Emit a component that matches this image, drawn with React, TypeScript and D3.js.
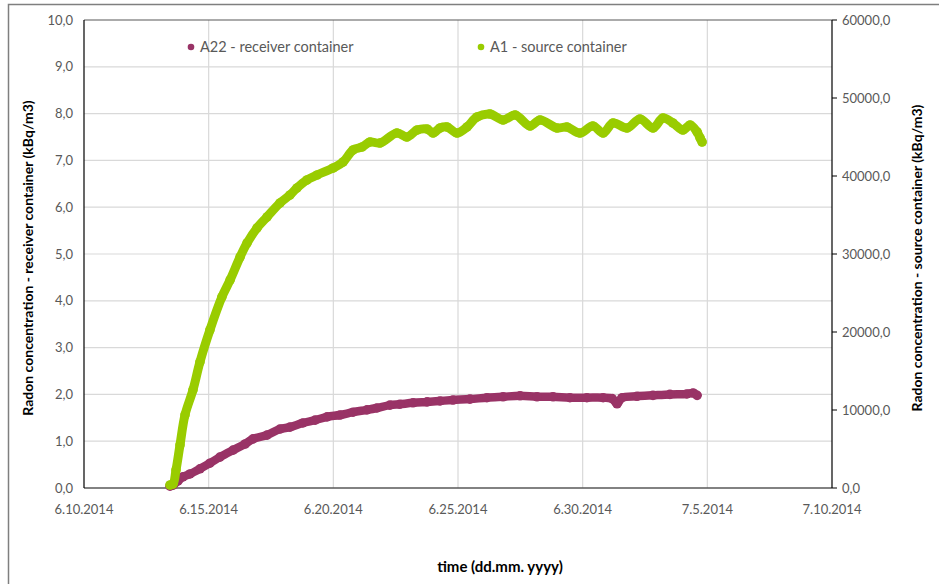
import React from "react";
import * as d3 from "d3";

// days since 6.10.2014, values
const a1Days = [3.45, 3.57, 3.69, 3.85, 4.05, 4.37, 4.65, 5.05, 5.53, 5.86, 6.26, 6.54, 6.94, 7.34, 7.86, 8.26, 8.54, 8.94, 9.35, 9.99, 10.39, 10.79, 11.15, 11.47, 11.87, 12.55, 12.95, 13.36, 13.76, 14.0, 14.28, 14.56, 14.96, 15.36, 15.76, 16.28, 16.81, 17.29, 17.89, 18.29, 18.97, 19.37, 19.89, 20.41, 20.82, 21.22, 21.78, 22.3, 22.82, 23.22, 23.62, 24.02, 24.31, 24.59, 24.71, 24.79];
const a1Values = [385, 513, 2308, 5513, 9359, 12564, 16154, 20256, 24487, 26667, 29615, 31410, 33333, 34744, 36538, 37564, 38462, 39487, 40128, 41026, 41795, 43333, 43718, 44359, 44231, 45513, 45000, 45897, 46026, 45513, 46154, 46282, 45513, 46282, 47564, 47949, 47179, 47820, 46410, 47179, 46154, 46282, 45513, 46410, 45513, 46795, 46154, 47308, 46154, 47436, 46795, 45897, 46538, 45641, 44872, 44359];

const a22Days = [3.45, 3.57, 3.77, 3.97, 4.25, 4.65, 5.05, 5.45, 5.98, 6.46, 6.78, 7.34, 7.86, 8.26, 8.78, 9.27, 9.75, 10.27, 10.79, 11.35, 11.75, 12.27, 12.67, 13.2, 13.76, 14.28, 14.8, 15.48, 16.16, 16.81, 17.49, 18.17, 18.81, 19.49, 20.17, 20.82, 21.18, 21.38, 21.58, 22.18, 22.82, 23.5, 24.18, 24.43, 24.59];
const a22Values = [0.04, 0.06, 0.15, 0.24, 0.3, 0.41, 0.53, 0.66, 0.81, 0.94, 1.05, 1.13, 1.26, 1.3, 1.39, 1.45, 1.52, 1.56, 1.62, 1.67, 1.71, 1.77, 1.79, 1.82, 1.84, 1.86, 1.88, 1.9, 1.93, 1.95, 1.97, 1.95, 1.95, 1.93, 1.93, 1.93, 1.91, 1.8, 1.93, 1.96, 1.98, 2.0, 2.01, 2.03, 1.98];

const xTickDays = [0, 5, 10, 15, 20, 25, 30];
const leftTicks = [0, 1, 2, 3, 4, 5, 6, 7, 8, 9, 10];
const rightTicks = [0, 10000, 20000, 30000, 40000, 50000, 60000];

const seriesNames = ["A22 - receiver container", "A1 - source container"];
const purple = "#993366";
const green = "#99cc00";

const start = new Date(2014, 5, 10);
const toDate = (d: number) => new Date(start.getTime() + d * 86400000);

export default function App() {
  const W = 939, H = 584;
  const L = 84, R = 832, T = 20, B = 488;
  const x = d3.scaleTime().domain([toDate(0), toDate(30)]).range([L, R]);
  const yL = d3.scaleLinear().domain([0, 10]).range([B, T]);
  const yR = d3.scaleLinear().domain([0, 60000]).range([B, T]);
  const fmt = d3.timeFormat("%-m.%-d.%Y");
  const font = "Lato, 'Open Sans', sans-serif";
  const tickColor = "#595959";

  const a22 = a22Days.map((d, i) => [x(toDate(d)), yL(a22Values[i])] as [number, number]);
  const a1 = a1Days.map((d, i) => [x(toDate(d)), yR(a1Values[i])] as [number, number]);
  const line = d3.line().curve(d3.curveCatmullRom);

  return (
    <svg width={W} height={H} style={{ position: "absolute", left: 0, top: 0, background: "#fff" }} fontFamily={font}>
      <rect x={8.5} y={4.5} width={960} height={620} fill="#fff" stroke="#7f7f7f" strokeWidth={1.5} />
      {leftTicks.slice(1, -1).map((t) => (
        <line key={"h" + t} x1={L} x2={R} y1={yL(t)} y2={yL(t)} stroke="#d9d9d9" strokeWidth={1.2} />
      ))}
      {xTickDays.slice(1, -1).map((d) => (
        <line key={"v" + d} x1={x(toDate(d))} x2={x(toDate(d))} y1={T} y2={B} stroke="#d9d9d9" strokeWidth={1.2} />
      ))}
      <line x1={L} x2={R} y1={T} y2={T} stroke="#595959" strokeWidth={1.2} />
      <line x1={L} x2={R} y1={B} y2={B} stroke="#595959" strokeWidth={1.5} />
      <line x1={L} x2={L} y1={T} y2={B} stroke="#000" strokeWidth={1.2} />
      <line x1={R} x2={R} y1={T} y2={B} stroke="#000" strokeWidth={1.2} />
      {rightTicks.map((t) => (
        <line key={"rt" + t} x1={R} x2={R + 5} y1={yR(t)} y2={yR(t)} stroke="#000" strokeWidth={1} />
      ))}
      <path d={line(a22) || ""} fill="none" stroke={purple} strokeWidth={8.5} strokeLinejoin="round" strokeLinecap="round" />
      {a22.map((p, i) => (
        <circle key={"p" + i} cx={p[0]} cy={p[1]} r={4.8} fill={purple} />
      ))}
      <path d={line(a1) || ""} fill="none" stroke={green} strokeWidth={9} strokeLinejoin="round" strokeLinecap="round" />
      {a1.map((p, i) => (
        <circle key={"g" + i} cx={p[0]} cy={p[1]} r={4.8} fill={green} />
      ))}
      {leftTicks.map((t) => (
        <text key={"lt" + t} x={73} y={yL(t)} dy="0.35em" textAnchor="end" fontSize={13} fill={tickColor}>
          {t.toFixed(1).replace(".", ",")}
        </text>
      ))}
      {rightTicks.map((t) => (
        <text key={"rl" + t} x={842} y={yR(t)} dy="0.35em" textAnchor="start" fontSize={13} fill={tickColor}>
          {t.toFixed(1).replace(".", ",")}
        </text>
      ))}
      {xTickDays.map((d) => (
        <text key={"xt" + d} x={x(toDate(d))} y={514} textAnchor="middle" fontSize={13} fill={tickColor}>
          {fmt(toDate(d))}
        </text>
      ))}
      <text transform={`translate(33,${(T + B) / 2 + 4}) rotate(-90)`} textAnchor="middle" fontSize={14} fontWeight="bold" fill="#000">
        Radon concentration - receiver container (kBq/m3)
      </text>
      <text transform={`translate(922,${(T + B) / 2 + 4}) rotate(-90)`} textAnchor="middle" fontSize={14} fontWeight="bold" fill="#000">
        Radon concentration - source container (kBq/m3)
      </text>
      <text x={500} y={572} textAnchor="middle" fontSize={15} fontWeight="bold" fill="#000">
        time (dd.mm. yyyy)
      </text>
      <circle cx={191} cy={47} r={3.3} fill={purple} />
      <text x={200} y={47} dy="0.35em" fontSize={14.5} fill={tickColor}>{seriesNames[0]}</text>
      <circle cx={481} cy={47} r={3.3} fill={green} />
      <text x={490} y={47} dy="0.35em" fontSize={14.5} fill={tickColor}>{seriesNames[1]}</text>
    </svg>
  );
}
